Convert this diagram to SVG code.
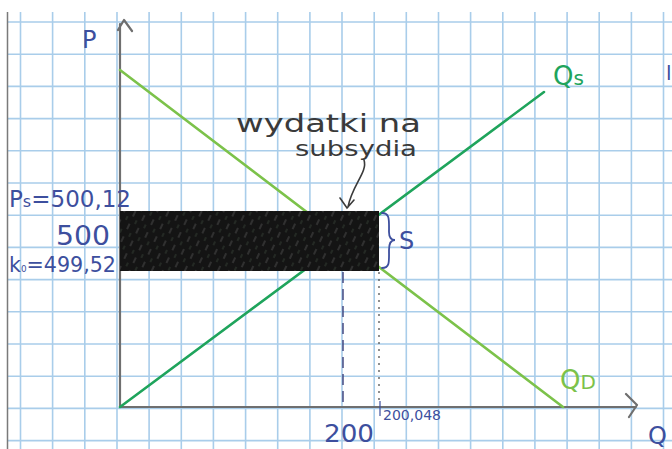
<svg xmlns="http://www.w3.org/2000/svg" width="672" height="449" viewBox="0 0 672 449">
<defs>
<style>
.grid{stroke:#a9cdea;stroke-width:1.6;fill:none}
.axis{stroke:#6f6f6f;stroke-width:2.2;fill:none;stroke-linecap:round;stroke-linejoin:round}
.pen{font-family:"DejaVu Sans","Liberation Sans",sans-serif;fill:#3d4f9e}
.ink{font-family:"DejaVu Sans","Liberation Sans",sans-serif;fill:#3a3a3a}
</style>
<pattern id="scratch" width="14" height="10" patternUnits="userSpaceOnUse" patternTransform="rotate(-65)">
<line x1="0" y1="2" x2="6" y2="2" stroke="#8a8a8a" stroke-width="0.8" opacity="0.6"/>
<line x1="8" y1="7" x2="12" y2="7" stroke="#6f8f6f" stroke-width="0.7" opacity="0.5"/>
</pattern>
</defs>
<rect width="672" height="449" fill="#ffffff"/>
<g id="paper">
<g class="grid">
<path d="M20.5 12V449M52.6 12V449M84.8 12V449M117 12V449M149.1 12V449M181.3 12V449M213.4 12V449M245.6 12V449M277.7 12V449M309.9 12V449M342 12V449M374.2 12V449M406.3 12V449M438.5 12V449M470.6 12V449M502.8 12V449M534.9 12V449M567.1 12V449M599.2 12V449M631.4 12V449M663.5 12V449"/>
<path d="M7 22H672M7 54.2H672M7 86.4H672M7 118.6H672M7 150.8H672M7 183H672M7 215.2H672M7 247.4H672M7 279.6H672M7 311.8H672M7 344H672M7 376.2H672M7 408.4H672M7 440.6H672"/>
</g>
<line x1="7.5" y1="12" x2="7.5" y2="449" stroke="#7a7a7a" stroke-width="1.5"/>
</g>
<g id="axes">
<path class="axis" d="M120 407V24M118 30L124 20L132 31"/>
<path class="axis" d="M120 407H636M626 394L637 405L629 417"/>
<text class="pen" x="82" y="48" font-size="24">P</text>
<text class="pen" x="648" y="444" font-size="24">Q</text>
</g>
<g id="connectors">
<line id="demand" x1="120" y1="70" x2="563" y2="407" stroke="#7cc24a" stroke-width="2.6" stroke-linecap="round"/>
<line id="supply" x1="120" y1="407" x2="544" y2="92" stroke="#1fa45c" stroke-width="2.6" stroke-linecap="round"/>
<line x1="343" y1="272" x2="343" y2="405" stroke="#3a3f7a" stroke-width="1.4" stroke-dasharray="11 6"/>
<line x1="379" y1="272" x2="379" y2="404" stroke="#555" stroke-width="1.3" stroke-dasharray="2 5"/>
<line x1="380" y1="401" x2="380" y2="416" stroke="#3d4f9e" stroke-width="1.2"/>
<path d="M364 160C368 172 352 185 348 207M340 198L347 208L354 200" fill="none" stroke="#3a3a3a" stroke-width="1.6" stroke-linecap="round"/>
<path d="M382 213C390 213 389 220 389 232C389 238 392 240 395 240C392 240 389 242 389 250C389 262 390 268 382 268" fill="none" stroke="#3d4f9e" stroke-width="1.8" stroke-linecap="round"/>
</g>
<g id="subsidy-area">
<rect x="120" y="211" width="259" height="60" fill="#141414"/>
<rect x="120" y="211" width="259" height="60" fill="url(#scratch)"/>
</g>
<g id="labels">
<text class="ink" x="236" y="132" font-size="24" textLength="185" lengthAdjust="spacingAndGlyphs">wydatki na</text>
<text class="ink" x="295" y="156" font-size="22" textLength="122" lengthAdjust="spacingAndGlyphs">subsydia</text>
<text x="553" y="85" font-size="26" font-family="DejaVu Sans, sans-serif" fill="#1fa45c">Q<tspan font-size="20">s</tspan></text>
<text x="560" y="389" font-size="26" font-family="DejaVu Sans, sans-serif" fill="#7cc24a">Q<tspan font-size="20">D</tspan></text>
<text class="pen" x="399" y="249" font-size="24">S</text>
<text class="pen" x="9" y="207" font-size="23" textLength="122" lengthAdjust="spacingAndGlyphs">P<tspan font-size="16">s</tspan>=500,12</text>
<text class="pen" x="56" y="245" font-size="26" textLength="54" lengthAdjust="spacingAndGlyphs">500</text>
<text class="pen" x="9" y="272" font-size="21" textLength="107" lengthAdjust="spacingAndGlyphs">k<tspan font-size="14">₀</tspan>=499,52</text>
<text class="pen" x="324" y="442" font-size="24" textLength="50" lengthAdjust="spacingAndGlyphs">200</text>
<text class="pen" x="383" y="420" font-size="14" textLength="58" lengthAdjust="spacingAndGlyphs">200,048</text>
<text class="pen" x="666" y="80" font-size="20">l</text>
</g>
</svg>
